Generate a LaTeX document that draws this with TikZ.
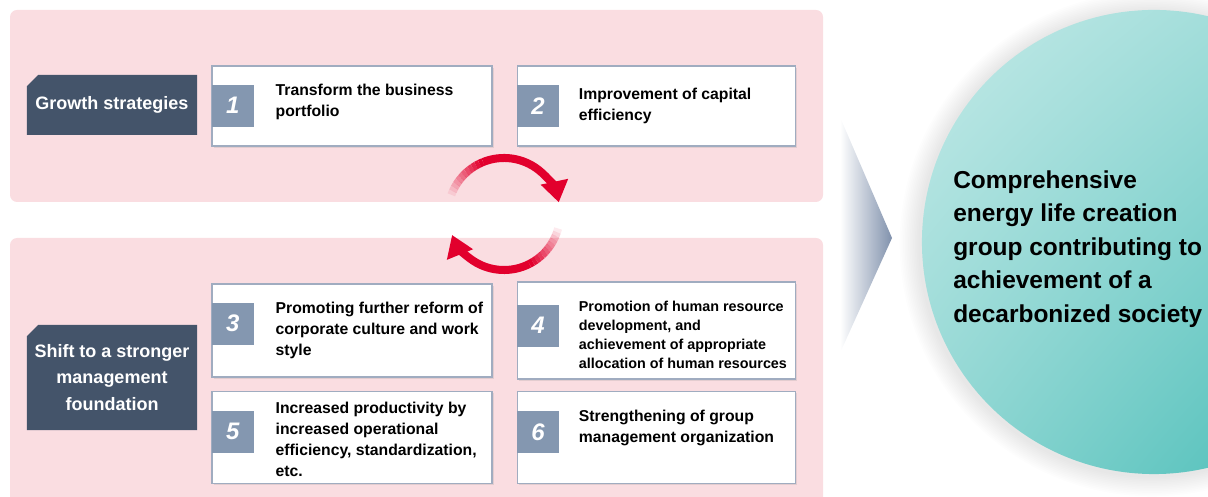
\documentclass[tikz,border=0pt]{standalone}
\usepackage{fontspec}
\setmainfont{Liberation Sans}
\usepackage{tikz}
\usetikzlibrary{arrows.meta,positioning,shapes.misc,shadows,shadings}
\usepackage{xcolor}
\definecolor{panelpink}{RGB}{250,221,225}
\definecolor{tagslate}{RGB}{68,84,106}
\definecolor{numslate}{RGB}{132,151,176}
\definecolor{cardedge}{RGB}{160,172,192}
\definecolor{cyclered}{RGB}{226,0,45}
\definecolor{chevronblue}{RGB}{128,145,172}
\definecolor{tealhi}{RGB}{196,234,232}
\definecolor{tealmid}{RGB}{145,215,211}
\definecolor{tealdeep}{RGB}{62,185,179}

\begin{document}
\begin{tikzpicture}[x=0.025cm,y=0.025cm,
  card/.style={draw=cardedge,line width=0.8pt,fill=white,inner sep=0pt,minimum height=2cm,
    drop shadow={shadow xshift=1.3pt,shadow yshift=-1.3pt,opacity=0.18}},
  num/.style={fill=numslate,text=white,minimum size=1.05cm,inner sep=0pt,anchor=north west,
    font=\bfseries\itshape\fontsize{17}{17}\selectfont},
  cardtext/.style={align=left,anchor=west,inner sep=0pt,font=\bfseries\fontsize{11.2}{15}\selectfont},
  tag/.style={chamfered rectangle,chamfered rectangle corners=north west,
    chamfered rectangle xsep=4pt,chamfered rectangle ysep=4pt,fill=tagslate,text=white,
    minimum width=4.25cm,inner sep=0pt,align=center,font=\bfseries\fontsize{12.8}{18.9}\selectfont},
  cyclearc/.style={draw=cyclered,line width=5.7pt}]
\useasboundingbox (0,0) rectangle (1208,497);
\clip (0,0) rectangle (1208,497);

\fill[panelpink,rounded corners=5pt] (10,295) rectangle (823,487);
\fill[panelpink,rounded corners=5pt] (10,-20) rectangle (823,259);

\node[tag,minimum height=1.5cm] (growth) at (112,392) {Growth strategies};
\node[tag,minimum height=2.625cm] (shift) at (112,119.5) {Shift to a stronger\\management\\foundation};

\node[card,minimum width=7cm] (c1) at (352,391) {};
\node[card,minimum width=6.95cm,right=0.6cm of c1] (c2) {};
\node[card,minimum width=7cm,minimum height=2.325cm] (c3) at (352,166.5) {};
\node[card,minimum width=6.95cm,minimum height=2.425cm,right=0.6cm of c3] (c4) {};
\node[card,minimum width=7cm,minimum height=2.3cm,below=0.325cm of c3] (c5) {};
\node[card,minimum width=6.95cm,minimum height=2.3cm,right=0.6cm of c5] (c6) {};

\node[num] (n1) at ([yshift=-0.475cm]c1.north west) {1};
\node[num] (n2) at ([yshift=-0.475cm]c2.north west) {2};
\node[num] (n3) at ([yshift=-0.475cm]c3.north west) {3};
\node[num] (n4) at ([yshift=-0.575cm]c4.north west) {4};
\node[num] (n5) at ([yshift=-0.5cm]c5.north west) {5};
\node[num] (n6) at ([yshift=-0.5cm]c6.north west) {6};

\node[cardtext] (t1) at ([xshift=1.6cm,yshift=0.11cm]c1.west) {Transform the business\\portfolio};
\node[cardtext] (t2) at ([xshift=1.55cm]c2.west) {Improvement of capital\\efficiency};
\node[cardtext] (t3) at ([xshift=1.6cm]c3.west) {Promoting further reform of\\corporate culture and work\\style};
\node[cardtext,font=\bfseries\fontsize{10.2}{13.5}\selectfont] (t4) at ([xshift=1.55cm,yshift=-0.1cm]c4.west) {Promotion of human resource\\development, and\\achievement of appropriate\\allocation of human resources};
\node[cardtext] (t5) at ([xshift=1.6cm,yshift=-0.05cm]c5.west) {Increased productivity by\\increased operational\\efficiency, standardization,\\etc.};
\node[cardtext] (t6) at ([xshift=1.55cm,yshift=0.24cm]c6.west) {Strengthening of group\\management organization};

\coordinate (cyc) at (504,283);
\foreach \i in {0,...,11}{
  \pgfmathsetmacro\op{(\i+1)/12}
  \draw[cyclearc,draw opacity=\op] (cyc) ++({160-4*\i}:1.4cm) arc[start angle={160-4*\i},delta angle=-4,radius=1.4cm];
  \draw[cyclearc,draw opacity=\op] (cyc) ++({-15-4*\i}:1.4cm) arc[start angle={-15-4*\i},delta angle=-4,radius=1.4cm];
}
\draw[cyclearc,-{Triangle[length=15pt,width=19pt]}] (cyc) ++(112:1.4cm) arc[start angle=112,end angle=12,radius=1.4cm];
\draw[cyclearc,-{Triangle[length=15pt,width=19pt]}] (cyc) ++(-63:1.4cm) arc[start angle=-63,end angle=-158,radius=1.4cm];

\shade[left color=white,right color=chevronblue] (840,380) -- (892,259) -- (840,144) -- cycle;

\foreach \r in {1,...,12}
  \fill[black,opacity=0.008] (1152,253) circle ({5.8cm+\r*1.2pt});
\node[circle,minimum size=11.6cm,inner sep=0pt,shade,upper left=tealhi,upper right=tealmid,
  lower left=tealmid,lower right=tealdeep] (goal) at (1154,255) {};
\node[align=left,anchor=west,inner sep=0pt,font=\bfseries\fontsize{17.4}{23.8}\selectfont] (goaltext) at (953,248)
  {Comprehensive\\energy life creation\\group contributing to\\achievement of a\\decarbonized society};
\end{tikzpicture}
\end{document}
